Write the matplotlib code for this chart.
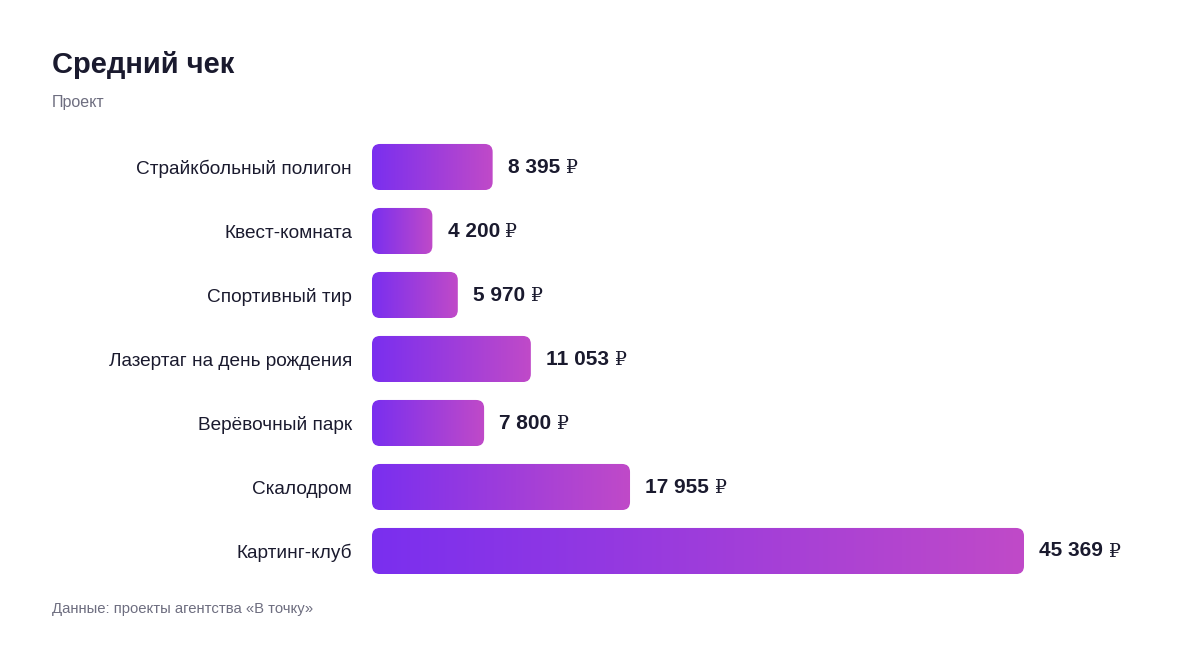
import matplotlib
matplotlib.use("Agg")
import matplotlib.pyplot as plt
import numpy as np
from matplotlib.patches import FancyBboxPatch
from matplotlib.colors import LinearSegmentedColormap

categories = ["Страйкбольный полигон", "Квест-комната", "Спортивный тир",
              "Лазертаг на день рождения", "Верёвочный парк", "Скалодром", "Картинг-клуб"]
values = [8395, 4200, 5970, 11053, 7800, 17955, 45369]
currency = "₽"

title = "Средний чек"
subtitle = "Проект"
source = "Данные: проекты агентства «В точку»"

W, H, DPI = 1200, 648, 100
fig = plt.figure(figsize=(W / DPI, H / DPI), dpi=DPI)
fig.patch.set_facecolor("white")

xmax = 50000
ax_left_px = 372
ax_w_px = 652 * xmax / 45369
ax_top_px = 135
ax_h_px = 448
ax = fig.add_axes([ax_left_px / W, (H - ax_top_px - ax_h_px) / H, ax_w_px / W, ax_h_px / H])
ax.set_xlim(0, xmax)
n = len(categories)
ax.set_ylim(n - 0.5, -0.5)
for s in ax.spines.values():
    s.set_visible(False)
ax.set_xticks([])
ax.set_yticks(range(n))
ax.set_yticklabels(categories, fontsize=13.7, color="#1a1a2e", family=["Liberation Sans", "DejaVu Sans"])
ax.tick_params(axis="y", length=0, pad=14.4)

cmap = LinearSegmentedColormap.from_list("g", ["#7A2FEF", "#C04AC8"])
grad = np.linspace(0, 1, 256).reshape(1, -1)

bar_h = 0.72
x_per_px = xmax / ax_w_px
y_per_px = n / ax_h_px
radius_px = 8
for i, v in enumerate(values):
    y0 = i - bar_h / 2
    patch = FancyBboxPatch((0, y0), v, bar_h,
                           boxstyle=f"round,pad=0,rounding_size={radius_px * x_per_px}",
                           mutation_aspect=y_per_px / x_per_px,
                           facecolor="none", edgecolor="none")
    ax.add_patch(patch)
    im = ax.imshow(grad, cmap=cmap, aspect="auto", extent=(0, v, i + bar_h / 2, y0),
                   interpolation="bicubic", zorder=2)
    im.set_clip_path(patch)
    label = f"{v:,}".replace(",", " ")
    t = ax.annotate(label, xy=(v, i), xytext=(11, 0), textcoords="offset points",
                    va="center", ha="left", fontsize=15, fontweight="bold", color="#1a1a2e",
                    family=["Liberation Sans", "DejaVu Sans"])
    ax.annotate(currency, xy=(1, 0), xycoords=t, xytext=(4, -0.5), textcoords="offset points",
                va="bottom", ha="left", fontsize=13.5, color="#1a1a2e",
                family=["DejaVu Serif", "DejaVu Sans"])

ax.set_xlim(0, xmax)
ax.set_ylim(n - 0.5, -0.5)

fig.text(52 / W, 1 - 65 / H, title, fontsize=21, fontweight="bold", color="#1a1a2e",
         va="center", ha="left", family=["Liberation Sans", "DejaVu Sans"])
fig.text(52 / W, 1 - 102 / H, subtitle, fontsize=11.5, color="#6e6e80",
         va="center", ha="left", family=["Liberation Sans", "DejaVu Sans"])
fig.text(52 / W, 1 - 609 / H, source, fontsize=10.7, color="#6e6e80",
         va="center", ha="left", family=["Liberation Sans", "DejaVu Sans"])

fig.savefig("out.png", dpi=DPI, facecolor="white")
